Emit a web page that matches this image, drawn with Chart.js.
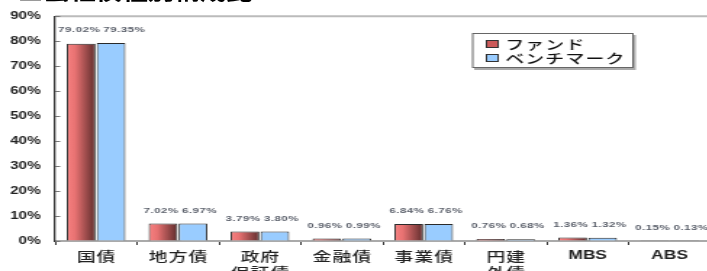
<!DOCTYPE html>
<html>
<head>
<meta charset="utf-8">
<style>
  html, body { margin: 0; padding: 0; background: #fff; overflow: hidden; width: 707px; height: 271px; }
  #wrap { position: absolute; left: 0; top: 0; width: 495px; height: 290px; transform: scaleX(1.45); transform-origin: 0 0; }
  #title { position: absolute; left: 12px; top: -17px; font: bold 18px "Noto Sans CJK JP"; line-height: 18px; white-space: nowrap; color: #000; }
  canvas { position: absolute; left: 0; top: 0; }
</style>
<script src="https://cdn.jsdelivr.net/npm/chart.js@4/dist/chart.umd.min.js"></script>
</head>
<body>
<div id="wrap">
  <div id="title"></div>
  <canvas id="chart" width="495" height="290"></canvas>
</div>
<script>
const titleText = '■公社債種別構成比';
const categories = [['国債'], ['地方債'], ['政府', '保証債'], ['金融債'], ['事業債'], ['円建', '外債'], ['MBS'], ['ABS']];
const seriesNames = ['ファンド', 'ベンチマーク'];
const fundValues = [79.02, 7.02, 3.79, 0.96, 6.84, 0.76, 1.36, 0.15];
const benchValues = [79.35, 6.97, 3.80, 0.99, 6.76, 0.68, 1.32, 0.13];
const yMax = 90;
const yStep = 10;

document.getElementById('title').textContent = titleText;

const catPct = 0.73;
const jpFont = '"Noto Sans CJK JP"';

// red bars get a left-to-right gradient, built from the x scale
function fundFill(c) {
  const chart = c.chart;
  const x = chart.scales.x;
  if (!x || !x.width || c.dataIndex === undefined) return '#d06060';
  const cw = x.width / categories.length;
  const mid = x.getPixelForValue(c.dataIndex);
  const left = mid - cw * catPct / 2;
  const g = chart.ctx.createLinearGradient(left, 0, mid, 0);
  g.addColorStop(0, '#f88282');
  g.addColorStop(0.3, '#e87272');
  g.addColorStop(1, '#5a2a2a');
  return g;
}

function spacedText(ctx, text, cx, y, spacing) {
  ctx.letterSpacing = spacing + 'px';
  const w = ctx.measureText(text).width - spacing;
  ctx.textAlign = 'left';
  ctx.fillText(text, cx - w / 2, y);
  ctx.letterSpacing = '0px';
}

const decor = {
  id: 'decor',
  afterDraw(chart) {
    const ctx = chart.ctx;
    const a = chart.chartArea;
    const x = chart.scales.x;
    const y = chart.scales.y;
    ctx.save();

    // top frame line
    ctx.strokeStyle = '#bbb';
    ctx.lineWidth = 2;
    ctx.beginPath();
    ctx.moveTo(a.left, a.top);
    ctx.lineTo(a.right + 10, a.top);
    ctx.stroke();

    // inner ticks on y axis
    ctx.strokeStyle = '#777';
    ctx.lineWidth = 1;
    y.ticks.forEach(t => {
      const py = Math.round(y.getPixelForValue(t.value)) + 0.5;
      ctx.beginPath();
      ctx.moveTo(a.left, py);
      ctx.lineTo(a.left + 3.5, py);
      ctx.stroke();
    });

    // value labels above bars; the second label is pushed right if the pair would overlap
    const sp = 0.3;
    ctx.fillStyle = '#5a5f6a';
    ctx.font = 'bold 8px "Liberation Sans"';
    ctx.textBaseline = 'middle';
    const m0 = chart.getDatasetMeta(0).data;
    const m1 = chart.getDatasetMeta(1).data;
    const d0 = chart.data.datasets[0].data;
    const d1 = chart.data.datasets[1].data;
    m0.forEach((el0, i) => {
      const el1 = m1[i];
      const t0 = d0[i].toFixed(2) + '%';
      const t1 = d1[i].toFixed(2) + '%';
      ctx.letterSpacing = sp + 'px';
      const w0 = ctx.measureText(t0).width - sp;
      const w1 = ctx.measureText(t1).width - sp;
      ctx.letterSpacing = '0px';
      const c0 = el0.x - 1.5;
      const c1 = Math.max(el1.x + 1.5, c0 + w0 / 2 + 2.5 + w1 / 2);
      const ly = Math.min(el0.y, el1.y) - 13;
      spacedText(ctx, t0, c0, ly, sp);
      spacedText(ctx, t1, c1, ly, sp);
    });

    // category labels
    ctx.fillStyle = '#222';
    ctx.textBaseline = 'top';
    categories.forEach((lines, i) => {
      const cx = x.getPixelForValue(i);
      lines.forEach((s, k) => {
        const latin = /^[A-Z]+$/.test(s);
        ctx.font = latin ? 'bold 12px "Liberation Sans"' : '500 13px ' + jpFont;
        spacedText(ctx, s, cx, a.bottom + 9 + k * 16, latin ? 0 : 0.7);
      });
    });

    // legend
    const lx = 325.5, ly = 33, lw = 111.5, lh = 35;
    ctx.fillStyle = '#aaa';
    ctx.fillRect(lx + 1.5, ly + 2, lw, lh);
    ctx.fillStyle = '#fff';
    ctx.fillRect(lx, ly, lw, lh);
    ctx.strokeStyle = '#666';
    ctx.lineWidth = 1;
    ctx.strokeRect(lx + 0.5, ly + 0.5, lw - 1, lh - 1);
    const swatch = ['#cc5a5a', '#99ccff'];
    ctx.font = '500 13px ' + jpFont;
    ctx.textBaseline = 'middle';
    seriesNames.forEach((name, k) => {
      const cy = ly + 11 + k * 14;
      ctx.fillStyle = swatch[k];
      ctx.fillRect(lx + 10, cy - 3.5, 8, 7);
      ctx.strokeStyle = '#333';
      ctx.strokeRect(lx + 10, cy - 3.5, 8, 7);
      ctx.fillStyle = '#111';
      ctx.letterSpacing = '0.8px';
      ctx.textAlign = 'left';
      ctx.fillText(name, lx + 23, cy + 0.5);
      ctx.letterSpacing = '0px';
    });

    ctx.restore();
  }
};

new Chart(document.getElementById('chart'), {
  type: 'bar',
  data: {
    labels: categories,
    datasets: [
      {
        label: seriesNames[0],
        data: fundValues,
        backgroundColor: fundFill,
        borderColor: '#2a2a2a',
        borderWidth: 1,
        categoryPercentage: catPct,
        barPercentage: 0.96
      },
      {
        label: seriesNames[1],
        data: benchValues,
        backgroundColor: '#99ccff',
        borderColor: '#2a2a2a',
        borderWidth: 1,
        categoryPercentage: catPct,
        barPercentage: 0.96
      }
    ]
  },
  options: {
    responsive: false,
    animation: false,
    devicePixelRatio: 1,
    layout: { padding: { top: 16, right: 5, left: 0, bottom: 0 } },
    plugins: {
      legend: { display: false },
      title: { display: false },
      tooltip: { enabled: false }
    },
    scales: {
      x: {
        afterFit(s) { s.height = 49; },
        ticks: { display: false },
        grid: { display: true, drawOnChartArea: false, drawTicks: true, tickLength: 4, color: '#333', offset: true },
        border: { display: true, color: '#aaa', width: 2 }
      },
      y: {
        min: 0,
        max: yMax,
        afterFit(s) { s.width = 38; },
        ticks: {
          stepSize: yStep,
          padding: 10,
          color: '#222',
          font: { family: '"Liberation Sans"', size: 10.5, weight: 'bold' },
          callback: v => v + '%'
        },
        grid: { display: true, drawOnChartArea: false, drawTicks: false },
        border: { display: true, color: '#333', width: 1.3 }
      }
    }
  },
  plugins: [decor]
});
</script>
</body>
</html>
